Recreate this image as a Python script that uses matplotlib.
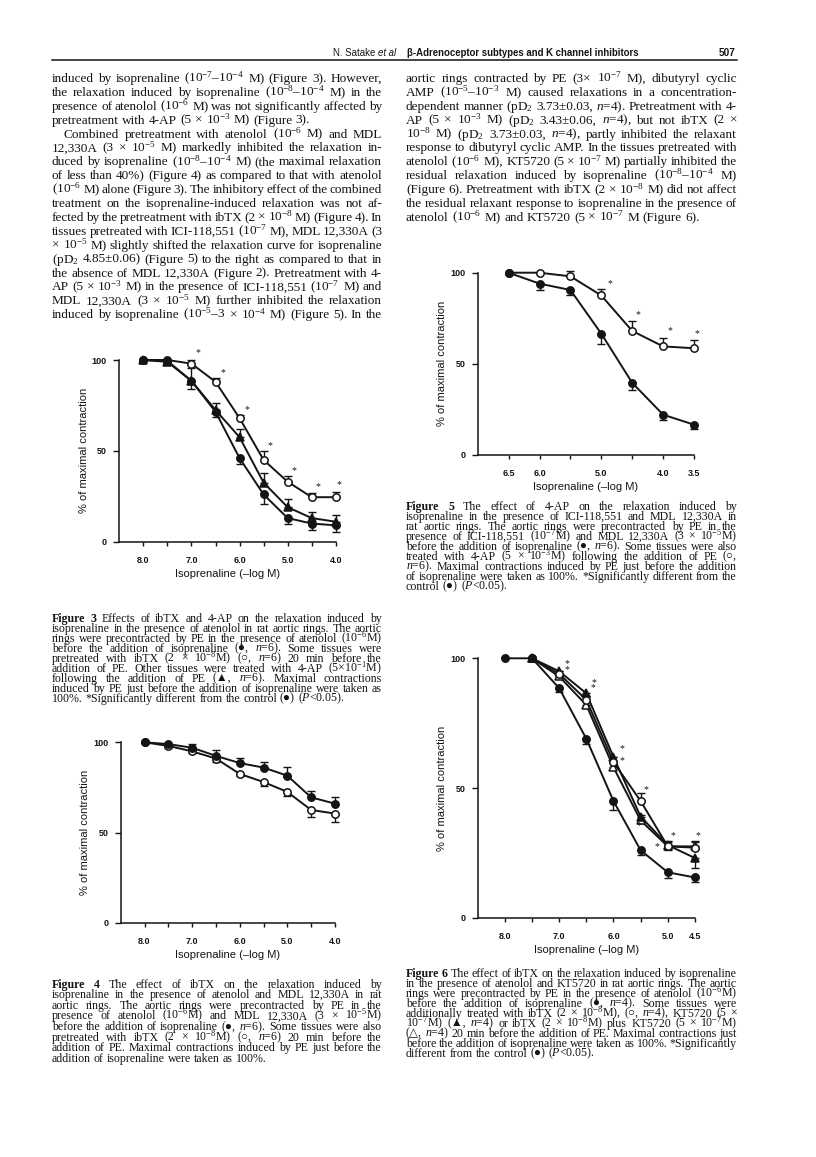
import matplotlib
matplotlib.use("Agg")
import matplotlib.pyplot as plt
from matplotlib.lines import Line2D
from matplotlib.transforms import IdentityTransform
import numpy as np

plt.rcParams["mathtext.fontset"] = "custom"
plt.rcParams["mathtext.rm"] = "Liberation Serif"
plt.rcParams["mathtext.it"] = "Liberation Serif:italic"
plt.rcParams["mathtext.bf"] = "Liberation Serif:bold"

W, H = 816, 1157
INK = "#141414"
SERIF = ["Liberation Serif", "DejaVu Sans"]
SANS = ["Liberation Sans", "DejaVu Sans"]
NARROW = ["Liberation Sans Narrow", "Liberation Sans", "DejaVu Sans"]

# ---- Figure 3 data: -log M vs % of maximal contraction
f3_x = [8.0, 7.5, 7.0, 6.5, 6.0, 5.5, 5.0, 4.5, 4.0]
f3_ctrl = [100, 99.5, 88.5, 71.5, 46, 26, 13, 10, 9]
f3_ctrl_err = [0, 1, 4.5, 3, 3, 5, 3, 3.5, 3.5]
f3_ibtx = [100, 100, 98, 88, 68, 45, 33, 24.5, 24.5]
f3_ibtx_err = [0, 0, 2, 2, 2, 5, 3, 2.5, 3]
f3_4ap = [100, 99, 88.5, 72.5, 57.5, 32.5, 19, 13, 11]
f3_4ap_err = [0, 1, 7, 4, 4.5, 5.5, 4.5, 3.5, 3.5]
f3_star_x = [6.86, 6.35, 5.85, 5.37, 4.875, 4.375, 3.94]
f3_star_y = [104, 93, 72.8, 52.8, 39, 30.3, 31.2]

# ---- Figure 4
f4_x = [8.0, 7.5, 7.0, 6.5, 6.0, 5.5, 5.0, 4.5, 4.0]
f4_ctrl = [100, 99, 97, 92.5, 88.5, 86, 81.5, 69.5, 66]
f4_ctrl_err = [0, 0.5, 2, 3, 2.6, 3, 5, 3.7, 3.5]
f4_ibtx = [100, 98, 95, 91, 82.5, 78, 72.5, 62.5, 60.5]
f4_ibtx_err = [0, 1, 1, 2, 1, 2, 2.2, 4, 4.8]

# ---- Figure 5
f5_x = [6.5, 6.0, 5.5, 5.0, 4.5, 4.0, 3.5]
f5_ctrl = [100, 94, 90.5, 66.5, 39.5, 22, 16.5]
f5_ctrl_err = [0, 3.6, 2.7, 5.5, 3.7, 3, 2.2]
f5_4ap = [100, 100, 98, 87.5, 68, 59.5, 58.5]
f5_4ap_err = [0, 0, 2.7, 3.5, 5.3, 4.8, 4.6]
f5_star_x = [4.855, 4.41, 3.895, 3.45]
f5_star_y = [94.1, 76.7, 68, 66.3]

# ---- Figure 6
f6_x_ctrl = [8.0, 7.5, 7.0, 6.5, 6.0, 5.5, 5.0, 4.5]
f6_ctrl = [100, 100, 88.5, 69, 45, 26, 17.5, 15.5]
f6_ctrl_err = [0, 0, 1.5, 2, 3.3, 2, 2.3, 1.7]
f6_x = [7.5, 7.0, 6.5, 6.0, 5.5, 5.0, 4.5]
f6_ibtx = [100, 94, 84, 60, 45, 27.5, 27]
f6_ibtx_err = [0, 1, 1.5, 2, 3, 2, 2]
f6_kt = [100, 95, 86.5, 62, 39, 28, 23]
f6_kt_err = [0, 1, 1.5, 2, 2.5, 2, 4]
f6_both = [100, 93, 82, 58, 37.5, 27.5, 27.5]
f6_both_err = [0, 1, 1.5, 2, 2, 1.5, 2]
f6_star_x = [6.85, 6.85, 6.36, 6.37, 5.85, 5.85, 5.40, 5.53, 5.20, 4.91, 4.44]
f6_star_y = [97.8, 95.8, 90.6, 88.8, 65.3, 60.5, 49.5, 35.4, 27.4, 31.5, 31.5]

# ---- page text
header_left = "N. Satake"
header_it = "et al"
header_title = "β-Adrenoceptor subtypes and K channel inhibitors"
page_no = "507"

body_left = [
    "induced by isoprenaline ($10^{-7}$–$10^{-4}$ M) (Figure 3). However,",
    "the relaxation induced by isoprenaline ($10^{-8}$–$10^{-4}$ M) in the",
    "presence of atenolol ($10^{-6}$ M) was not significantly affected by",
    "pretreatment with 4-AP (5 × $10^{-3}$ M) (Figure 3).",
    "Combined pretreatment with atenolol ($10^{-6}$ M) and MDL",
    "12,330A (3 × $10^{-5}$ M) markedly inhibited the relaxation in-",
    "duced by isoprenaline ($10^{-8}$–$10^{-4}$ M) (the maximal relaxation",
    "of less than 40%) (Figure 4) as compared to that with atenolol",
    "($10^{-6}$ M) alone (Figure 3). The inhibitory effect of the combined",
    "treatment on the isoprenaline-induced relaxation was not af-",
    "fected by the pretreatment with ibTX (2 × $10^{-8}$ M) (Figure 4). In",
    "tissues pretreated with ICI-118,551 ($10^{-7}$ M), MDL 12,330A (3",
    "× $10^{-5}$ M) slightly shifted the relaxation curve for isoprenaline",
    "(p$\\mathrm{D}_2$ 4.85±0.06) (Figure 5) to the right as compared to that in",
    "the absence of MDL 12,330A (Figure 2). Pretreatment with 4-",
    "AP (5 × $10^{-3}$ M) in the presence of ICI-118,551 ($10^{-7}$ M) and",
    "MDL 12,330A (3 × $10^{-5}$ M) further inhibited the relaxation",
    "induced by isoprenaline ($10^{-5}$–3 × $10^{-4}$ M) (Figure 5). In the",
]
body_right = [
    "aortic rings contracted by PE (3× $10^{-7}$ M), dibutyryl cyclic",
    "AMP ($10^{-5}$–$10^{-3}$ M) caused relaxations in a concentration-",
    "dependent manner (p$\\mathrm{D}_2$ 3.73±0.03, $n$=4). Pretreatment with 4-",
    "AP (5 × $10^{-3}$ M) (p$\\mathrm{D}_2$ 3.43±0.06, $n$=4), but not ibTX (2 ×",
    "$10^{-8}$ M) (p$\\mathrm{D}_2$ 3.73±0.03, $n$=4), partly inhibited the relaxant",
    "response to dibutyryl cyclic AMP. In the tissues pretreated with",
    "atenolol ($10^{-6}$ M), KT5720 (5 × $10^{-7}$ M) partially inhibited the",
    "residual relaxation induced by isoprenaline ($10^{-8}$–$10^{-4}$ M)",
    "(Figure 6). Pretreatment with ibTX (2 × $10^{-8}$ M) did not affect",
    "the residual relaxant response to isoprenaline in the presence of",
    "atenolol ($10^{-6}$ M) and KT5720 (5 × $10^{-7}$ M (Figure 6).",
]
cap3 = [
    "Figure 3 Effects of ibTX and 4-AP on the relaxation induced by",
    "isoprenaline in the presence of atenolol in rat aortic rings. The aortic",
    "rings were precontracted by PE in the presence of atenolol ($10^{-6}$M)",
    "before the addition of isoprenaline (●, $n$=6). Some tissues were",
    "pretreated with ibTX (2 × $10^{-8}$M) (○, $n$=6) 20 min before the",
    "addition of PE. Other tissues were treated with 4-AP (5×$10^{-1}$M)",
    "following the addition of PE (▲, $n$=6). Maximal contractions",
    "induced by PE just before the addition of isoprenaline were taken as",
    "100%. *Significantly different from the control (●) ($P$<0.05).",
]
cap4 = [
    "Figure 4 The effect of ibTX on the relaxation induced by",
    "isoprenaline in the presence of atenolol and MDL 12,330A in rat",
    "aortic rings. The aortic rings were precontracted by PE in the",
    "presence of atenolol ($10^{-6}$M) and MDL 12,330A (3 × $10^{-5}$M)",
    "before the addition of isoprenaline (●, $n$=6). Some tissues were also",
    "pretreated with ibTX (2 × $10^{-8}$M) (○, $n$=6) 20 min before the",
    "addition of PE. Maximal contractions induced by PE just before the",
    "addition of isoprenaline were taken as 100%.",
]
cap5 = [
    "Figure 5 The effect of 4-AP on the relaxation induced by",
    "isoprenaline in the presence of ICI-118,551 and MDL 12,330A in",
    "rat aortic rings. The aortic rings were precontracted by PE in the",
    "presence of ICI-118,551 ($10^{-7}$M) and MDL 12,330A (3 × $10^{-5}$M)",
    "before the addition of isoprenaline (●, $n$=6). Some tissues were also",
    "treated with 4-AP (5 × $10^{-3}$M) following the addition of PE (○,",
    "$n$=6). Maximal contractions induced by PE just before the addition",
    "of isoprenaline were taken as 100%. *Significantly different from the",
    "control (●) ($P$<0.05).",
]
cap6 = [
    "Figure 6 The effect of ibTX on the relaxation induced by isoprenaline",
    "in the presence of atenolol and KT5720 in rat aortic rings. The aortic",
    "rings were precontracted by PE in the presence of atenolol ($10^{-6}$M)",
    "before the addition of isoprenaline (●, $n$=4). Some tissues were",
    "additionally treated with ibTX (2 × $10^{-8}$M), (○, $n$=4), KT5720 (5 ×",
    "$10^{-7}$M) (▲, $n$=4) or ibTX (2 × $10^{-8}$M) plus KT5720 (5 × $10^{-7}$M)",
    "(△, $n$=4) 20 min before the addition of PE. Maximal contractions just",
    "before the addition of isoprenaline were taken as 100%. *Significantly",
    "different from the control (●) ($P$<0.05).",
]

fig = plt.figure(figsize=(W / 100, H / 100), dpi=100)
fig.patch.set_facecolor("white")
R = fig.canvas.get_renderer()
PX = IdentityTransform()


def measure(s, size, family=SERIF, weight="normal", style="normal"):
    t = fig.text(0, 0, s, fontsize=size, family=family, weight=weight,
                 style=style, transform=PX)
    w = t.get_window_extent(R).width
    t.remove()
    return w


def fit_size(lines, width, ragged):
    r = [width / measure(s, 10) for i, s in enumerate(lines) if i not in ragged]
    return 10 * float(np.median(r))


def set_block(lines, x0, x1, y_first, step, size, ragged=(), indent=None, bold_first=0):
    indent = indent or {}
    em = size * 100 / 72
    for i, s in enumerate(lines):
        objs = []
        for j, wd in enumerate(s.split()):
            bold = i == 0 and j < bold_first
            objs.append(fig.text(0, 0, wd, fontsize=size, family=SERIF,
                                 weight="bold" if bold else "normal", color=INK,
                                 ha="left", va="baseline", transform=PX))
        ws = [o.get_window_extent(R).width for o in objs]
        left = x0 + indent.get(i, 0)
        if i in ragged or len(objs) < 2:
            gap = 0.25 * em
        else:
            gap = (x1 - left - sum(ws)) / (len(objs) - 1)
        x = left
        base = H - (y_first + i * step + 0.3 * em)
        for o, w in zip(objs, ws):
            o.set_position((x, base))
            x += w + gap


# ---- running head
hs = 8 * 232 / measure(header_title, 8, NARROW, "bold")
fig.text(407, H - 56.5, header_title, fontsize=hs, family=NARROW, weight="bold",
         color=INK, ha="left", va="baseline", transform=PX)
w_it = measure(header_it, hs, NARROW, style="italic")
fig.text(396, H - 56.5, header_it, fontsize=hs, family=NARROW, style="italic",
         color=INK, ha="right", va="baseline", transform=PX)
fig.text(396 - w_it - 3, H - 56.5, header_left, fontsize=hs, family=NARROW,
         color=INK, ha="right", va="baseline", transform=PX)
fig.text(736, H - 56.5, page_no, fontsize=hs * 1.05, family=NARROW, weight="bold",
         color=INK, ha="right", va="baseline", transform=PX)
fig.add_artist(Line2D([52, 737], [H - 60, H - 60], transform=PX, lw=1.1, color=INK))

# ---- body columns
bs = fit_size(body_left + body_right[:-1], 330, ragged={3, 4})
set_block(body_left, 52, 382, 78, 13.9, bs, ragged={3}, indent={4: 12})
set_block(body_right, 406, 737, 78, 13.9, bs, ragged={10})

# ---- captions
cs = 0.96 * fit_size(cap3[1:-1] + cap5[1:-1] + cap6[1:-1], 331, ragged=set())
set_block(cap3, 52, 382, 618, 10.0, cs, ragged={8}, bold_first=2)
set_block(cap4, 52, 382, 984, 10.6, cs, ragged={7}, bold_first=2)
set_block(cap5, 406, 737, 506, 10.0, cs, ragged={8}, bold_first=2)
set_block(cap6, 406, 737, 973, 10.0, cs, ragged={8}, bold_first=2)


# ---- plots
def panel(left, y0, xlim, height, ticks, labels, unit_px):
    width = abs(xlim[0] - xlim[1]) * unit_px
    ax = fig.add_axes([left / W, (H - y0) / H, width / W, height / H])
    ax.set_facecolor("none")
    ax.set_xlim(*xlim)
    ax.set_ylim(0, 100)
    for s in ("top", "right"):
        ax.spines[s].set_visible(False)
    for s in ("left", "bottom"):
        ax.spines[s].set_linewidth(1.1)
        ax.spines[s].set_color(INK)
    ax.set_yticks([0, 50, 100])
    ax.set_yticklabels(["0", "50", "100"])
    ax.set_xticks(ticks)
    ax.set_xticklabels(labels)
    ax.tick_params(axis="y", length=4, width=1, pad=5, colors=INK)
    ax.tick_params(axis="x", length=3, width=1, pad=7, colors=INK)
    for lab in ax.get_xticklabels() + ax.get_yticklabels():
        lab.set_fontfamily(SANS)
        lab.set_fontweight("bold")
        lab.set_fontsize(6.5)
    ax.set_xlabel("Isoprenaline (–log M)", fontsize=8, family=SANS, color=INK)
    ax.set_ylabel("% of maximal contraction", fontsize=8, family=SANS, color=INK)
    ax.xaxis.set_label_coords(0.5, -27 / height)
    ax.yaxis.set_label_coords(-30.5 / width, 0.5)
    return ax


def series(ax, x, y, err, above, marker, filled, ms=5.3):
    e = np.asarray(err, dtype=float)
    z = np.zeros_like(e)
    eb = ax.errorbar(x, y, yerr=[z, e] if above else [e, z], fmt="none", ecolor=INK,
                     elinewidth=1, capsize=3, capthick=1, zorder=2)
    for a in eb.get_children():
        a.set_clip_on(False)
    ax.plot(x, y, color=INK, lw=1.4, marker=marker, ms=ms,
            mfc=INK if filled else "white", mec=INK, mew=1.1,
            clip_on=False, zorder=3)


def stars(ax, xs, ys):
    for sx, sy in zip(xs, ys):
        ax.text(sx, sy, "*", ha="center", va="center", fontsize=7, family=SERIF,
                color=INK, clip_on=False)


half = [8.0, 7.5, 7.0, 6.5, 6.0, 5.5, 5.0, 4.5, 4.0]
half_lab = ["8.0", "", "7.0", "", "6.0", "", "5.0", "", "4.0"]

ax3 = panel(119.3, 541.7, (8.5, 4.0), 181.7, half, half_lab, 48.1)
series(ax3, f3_x, f3_4ap, f3_4ap_err, True, "^", True, ms=6)
series(ax3, f3_x, f3_ibtx, f3_ibtx_err, True, "o", False)
series(ax3, f3_x, f3_ctrl, f3_ctrl_err, False, "o", True)
stars(ax3, f3_star_x, f3_star_y)

ax4 = panel(120.7, 922.7, (8.5, 4.0), 180.4, half, half_lab, 47.6)
series(ax4, f4_x, f4_ibtx, f4_ibtx_err, False, "o", False)
series(ax4, f4_x, f4_ctrl, f4_ctrl_err, True, "o", True)

ax5 = panel(477.7, 454.7, (7.0, 3.5), 182.0,
            [6.5, 6.0, 5.5, 5.0, 4.5, 4.0, 3.5],
            ["6.5", "6.0", "", "5.0", "", "4.0", "3.5"], 61.8)
series(ax5, f5_x, f5_4ap, f5_4ap_err, True, "o", False)
series(ax5, f5_x, f5_ctrl, f5_ctrl_err, False, "o", True)
stars(ax5, f5_star_x, f5_star_y)

ax6 = panel(477.7, 917.7, (8.5, 4.5), 259.4, half[:-1],
            ["8.0", "", "7.0", "", "6.0", "", "5.0", "4.5"], 54.3)
series(ax6, f6_x, f6_both, f6_both_err, True, "^", False, ms=6)
series(ax6, f6_x, f6_kt, f6_kt_err, False, "^", True, ms=6)
series(ax6, f6_x, f6_ibtx, f6_ibtx_err, True, "o", False)
series(ax6, f6_x_ctrl, f6_ctrl, f6_ctrl_err, False, "o", True)
stars(ax6, f6_star_x, f6_star_y)

fig.savefig("out.png", dpi=100, facecolor="white")
